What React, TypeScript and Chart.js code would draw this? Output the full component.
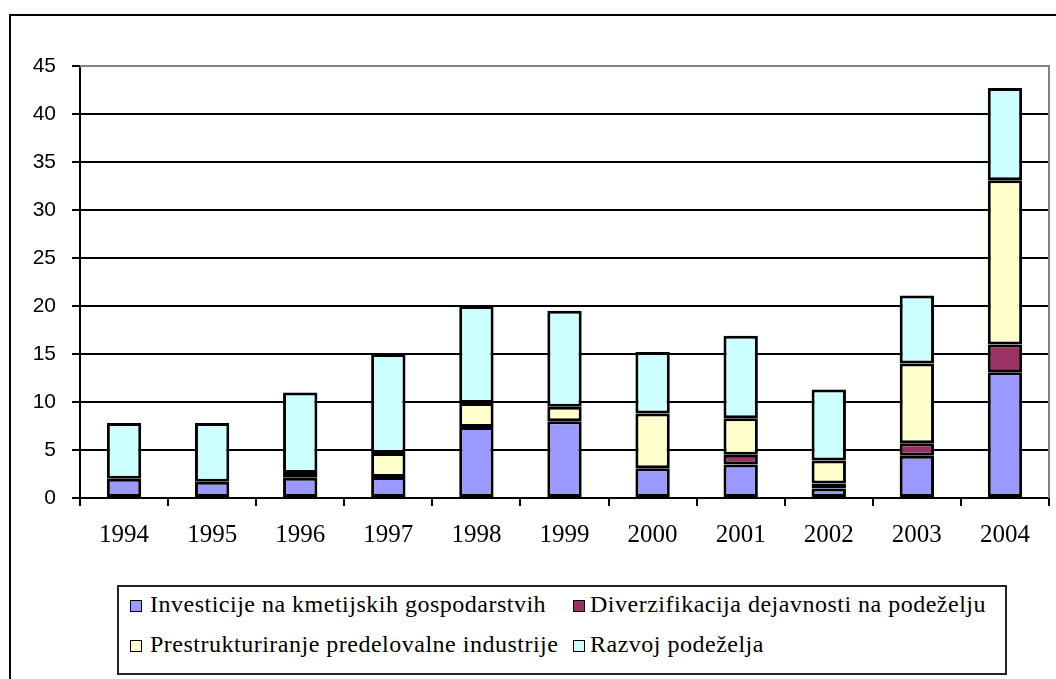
import React, { useEffect, useRef } from "react";
import { Chart, registerables } from "chart.js";

Chart.register(...registerables);

const years = ["1994", "1995", "1996", "1997", "1998", "1999", "2000", "2001", "2002", "2003", "2004"];
const investicije = [2.0, 1.7, 2.1, 2.2, 7.4, 8.0, 3.1, 3.5, 1.0, 4.4, 13.1];
const diverzifikacija = [0, 0, 0.5, 0, 0, 0, 0, 1.0, 0.5, 1.3, 2.9];
const prestrukturiranje = [0, 0, 0, 2.5, 2.5, 1.5, 5.7, 3.8, 2.4, 8.3, 17.1];
const razvoj = [5.8, 6.1, 8.4, 10.3, 10.1, 10.0, 6.4, 8.6, 7.4, 7.1, 9.6];

const seriesNames = [
  "Investicije na kmetijskih gospodarstvih",
  "Diverzifikacija dejavnosti na podeželju",
  "Prestrukturiranje predelovalne industrije",
  "Razvoj podeželja",
];
const seriesColors = ["#9999FF", "#993366", "#FFFFCC", "#CCFFFF"];

const yMin = 0;
const yMax = 45;
const yStep = 5;

const plotBorder = {
  id: "plotBorder",
  afterDraw(chart: any) {
    const { ctx, chartArea } = chart;
    ctx.save();
    ctx.strokeStyle = "#808080";
    ctx.lineWidth = 2;
    ctx.beginPath();
    ctx.moveTo(chartArea.left, chartArea.top);
    ctx.lineTo(chartArea.right, chartArea.top);
    ctx.lineTo(chartArea.right, chartArea.bottom);
    ctx.stroke();
    ctx.restore();
  },
};

const SERIF = '"Liberation Serif", "Times New Roman", Times, serif';

export default function App() {
  const ref = useRef<HTMLCanvasElement>(null);

  useEffect(() => {
    if (!ref.current) return;
    const values = [investicije, diverzifikacija, prestrukturiranje, razvoj];
    const chart = new Chart(ref.current, {
      type: "bar",
      data: {
        labels: years,
        datasets: values.map((v, i) => ({
          label: seriesNames[i],
          data: v,
          backgroundColor: seriesColors[i],
          borderColor: "#000",
          borderWidth: 3,
          borderSkipped: false,
          inflateAmount: 0,
          barPercentage: 0.39,
          categoryPercentage: 1,
        })),
      },
      options: {
        animation: false,
        responsive: false,
        devicePixelRatio: 1,
        layout: { padding: { left: 0, right: 7, top: 66, bottom: 0 } },
        plugins: { legend: { display: false }, tooltip: { enabled: false } },
        scales: {
          x: {
            stacked: true,
            offset: true,
            border: { display: true, color: "#000", width: 2 },
            grid: {
              offset: true,
              drawOnChartArea: false,
              drawTicks: true,
              tickLength: 8,
              color: "#000",
              lineWidth: 2,
            },
            ticks: {
              color: "#000",
              font: { family: SERIF, size: 25 },
              padding: 14,
              maxRotation: 0,
              autoSkip: false,
            },
            afterFit(scale: any) {
              scale.height = 62;
            },
          },
          y: {
            stacked: true,
            min: yMin,
            max: yMax,
            border: { display: true, color: "#000", width: 2 },
            grid: {
              color: (c: any) => (c.tick && c.tick.value === yMax ? "#808080" : "#000"),
              tickColor: "#000",
              lineWidth: 2,
              drawTicks: true,
              tickLength: 8,
            },
            ticks: {
              stepSize: yStep,
              color: "#000",
              font: { family: '"Liberation Sans", Arial, sans-serif', size: 21 },
              padding: 16,
            },
            afterFit(scale: any) {
              scale.width = 80;
            },
          },
        },
      },
      plugins: [plotBorder],
    });
    return () => chart.destroy();
  }, []);

  const legendFont: React.CSSProperties = {
    position: "absolute",
    fontFamily: SERIF,
    fontSize: 24,
    letterSpacing: "0.5px",
    lineHeight: "24px",
    color: "#000",
    whiteSpace: "nowrap",
  };
  const sq = (color: string, left: number, top: number) => (
    <div
      style={{
        position: "absolute",
        left,
        top,
        width: 10,
        height: 10,
        background: color,
        border: "1px solid #000",
      }}
    />
  );
  const items = [
    { i: 0, sx: 130, tx: 150, cy: 606 },
    { i: 1, sx: 573, tx: 590, cy: 606 },
    { i: 2, sx: 130, tx: 150, cy: 646 },
    { i: 3, sx: 573, tx: 590, cy: 646 },
  ];

  return (
    <div
      style={{
        position: "fixed",
        left: 0,
        top: 0,
        width: 1056,
        height: 679,
        background: "#fff",
        overflow: "hidden",
      }}
    >
      <div
        style={{
          position: "absolute",
          left: 9,
          top: 14,
          width: 1200,
          height: 800,
          borderLeft: "2px solid #000",
          borderTop: "2px solid #000",
        }}
      />
      <canvas
        ref={ref}
        width={1056}
        height={560}
        style={{ position: "absolute", left: 0, top: 0, width: 1056, height: 560 }}
      />
      <div
        style={{
          position: "absolute",
          left: 117,
          top: 585,
          width: 886,
          height: 86,
          border: "2px solid #222",
        }}
      />
      {items.map((it) => (
        <React.Fragment key={it.i}>
          {sq(seriesColors[it.i], it.sx, it.cy - 6)}
          <span style={{ ...legendFont, left: it.tx, top: it.cy - 14 }}>{seriesNames[it.i]}</span>
        </React.Fragment>
      ))}
    </div>
  );
}
